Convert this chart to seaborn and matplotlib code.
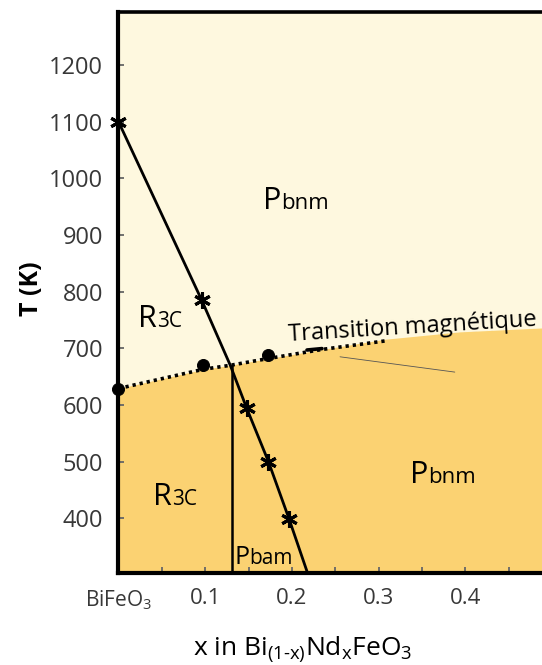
import matplotlib
matplotlib.use("Agg")
import matplotlib.pyplot as plt
import seaborn as sns


# ==================== 数据 ====================
# R3C / Pbnm 结构边界（实线）
boundary_x = [0.0, 0.096, 0.129, 0.148, 0.173, 0.197, 0.218]
boundary_T = [1100, 785, 670, 594, 500, 398, 304]

# 边界上的测量点（星号）
star_x = [0.0, 0.096, 0.148, 0.173, 0.197]
star_T = [1100, 785, 594, 500, 398]

# 磁转变（点线）及测量点
magn_line_x = [0.0, 0.098, 0.129, 0.173, 0.235, 0.3075]
magn_line_T = [629, 663, 670, 682, 698, 713]
magn_x = [0.0, 0.098, 0.173]
magn_T = [629, 670, 688]

# 低温（橙色）区域的上边界
region_x = [0.0, 0.098, 0.129, 0.173, 0.235, 0.3075, 0.394, 0.49]
region_T = [629, 663, 670, 682, 698, 716, 729, 736]

# R3C / Pbam 边界（竖线）
pbam_x = [0.1306, 0.1306]
pbam_T = [304, 670]

x_ticks = [0.0, 0.05, 0.1, 0.15, 0.2, 0.25, 0.3, 0.35, 0.4, 0.45]
x_ticklabels = [r'BiFeO$_\mathregular{3}$', '', '0.1', '', '0.2', '', '0.3', '', '0.4', '']
y_ticks = [400, 500, 600, 700, 800, 900, 1000, 1100, 1200]

CREAM = '#FEF8DF'
ORANGE = '#FBD272'


def phase_label(ax, x, T, big, small, size_big, size_small):
    """大写字母 + 较小的后缀，基线对齐"""
    t = ax.text(x, T, big, fontsize=size_big, ha='left', va='baseline', color='black')
    ax.annotate(small, xy=(1.0, T), xycoords=(t, 'data'),
                fontsize=size_small, ha='left', va='baseline', color='black')


sns.set_style("ticks")
plt.rcParams['font.family'] = ['Open Sans', 'DejaVu Sans']
plt.rcParams['mathtext.fontset'] = 'custom'
plt.rcParams['mathtext.rm'] = 'Open Sans'

fig = plt.figure(figsize=(5.42, 6.65), dpi=100)
ax = fig.add_axes([0.2186, 0.1388, 0.7814, 0.8436])
ax.set_facecolor(CREAM)
ax.set_xlim(0, 0.4886)
ax.set_ylim(304, 1294)

# 低温区域
ax.fill_between(region_x, 304, region_T, color=ORANGE, lw=0, zorder=0)

# 边界线
sns.lineplot(x=boundary_x, y=boundary_T, sort=False, estimator=None,
             color='black', lw=2.0, ax=ax, zorder=3)
sns.lineplot(x=pbam_x, y=pbam_T, sort=False, estimator=None,
             color='black', lw=1.8, ax=ax, zorder=3)
ax.plot(magn_line_x, magn_line_T, color='black', lw=2.6, ls=(0, (0.9, 1.1)), zorder=3)
ax.plot([0.2175, 0.2348], [697, 699.5], color='black', lw=2.6, zorder=3)
ax.plot([0.2556, 0.388], [685, 658], color='#555555', lw=0.6, zorder=2)

# 测量点
sns.scatterplot(x=magn_x, y=magn_T, color='black', s=75, edgecolor='black', ax=ax, zorder=4, clip_on=False)
ax.plot(star_x, star_T, ls='none', marker=(6, 2, 0), ms=12, mew=2.2, color='black',
        zorder=5, clip_on=False)

# 相区标注
phase_label(ax, 0.167, 945, 'P', 'bnm', 22, 16)
phase_label(ax, 0.336, 462, 'P', 'bnm', 22, 16)
phase_label(ax, 0.023, 737, 'R', '3C', 22, 15)
phase_label(ax, 0.040, 423, 'R', '3C', 22, 15)
phase_label(ax, 0.134, 319, 'P', 'bam', 18, 15)

ax.text(0.196, 713, 'Transition magnétique', fontsize=17, rotation=3.5,
        rotation_mode='anchor', ha='left', va='baseline', color='black')

# 坐标轴
ax.set_xticks(x_ticks)
ax.set_xticklabels(x_ticklabels)
ax.set_yticks(y_ticks)
ax.tick_params(axis='both', direction='in', length=4, width=1.3, color='#666666',
               labelcolor='#383838')
ax.tick_params(axis='x', labelsize=16, pad=11)
ax.tick_params(axis='y', labelsize=17, pad=11)
ax.get_xticklabels()[0].set_fontsize(15)

for side in ['left', 'bottom']:
    ax.spines[side].set_linewidth(3.0)
    ax.spines[side].set_color('black')
ax.spines['top'].set_linewidth(2.6)
ax.spines['top'].set_color('black')
ax.spines['right'].set_visible(False)

ax.set_ylabel('T (K)', fontsize=18, fontweight='bold', color='black')
ax.yaxis.set_label_coords(-0.176, 0.506)
ax.set_xlabel(r'x in Bi$_\mathregular{(1\text{-}x)}$Nd$_\mathregular{x}$FeO$_\mathregular{3}$',
              fontsize=19, color='black')
ax.xaxis.set_label_coords(0.4357, -0.11)

fig.savefig('out.png', dpi=100)
